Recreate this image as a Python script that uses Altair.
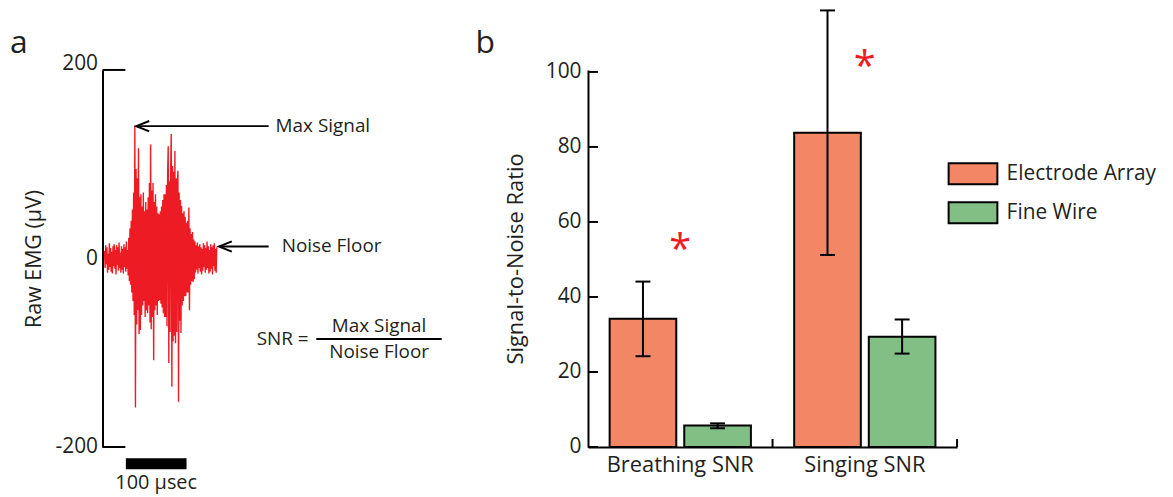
import altair as alt
import pandas as pd

FONT = "Open Sans"
TXT = "#231F20"
RED = "#ED1C24"

# ---------------- Panel a: raw EMG trace (µV), one sample per µs ----------------
emg_uv = [
    8, -10, 14, -6, 12, -15, 5, -12, 16, -9,
    11, -14, 7, -16, 13, -8, 15, -11, 9, -17,
    14, -7, 12, -13, 17, -10, 6, -15, 13, -12,
    10, -16, 15, -9, 12, -14, 18, -11, 9, -18,
    22, -24, 32, -28, 40, -36, 52, -45, 70, -60,
    141, -158, 95, -70, 85, -55, 117, -80, 65, -76,
    68, -60, 55, -50, 70, -45, 50, -62, 60, -55,
    52, -58, 65, -50, 80, -68, 121, -75, 72, -62,
    80, -108, 60, -55, 68, -50, 55, -60, 48, -45,
    47, -44, 50, -48, 55, -52, 62, -58, 68, -62,
    68, -62, 78, -72, 90, 119, -111, 82, -78, 95,
    132, -136, 98, -88, 92, -82, 114, -90, 85, -78,
    80, 93, -152, 70, -66, 62, -79, 56, -50, 48,
    -45, 50, -40, 44, -40, 38, -36, 40, -36, 54,
    -55, 32, -28, 26, -24, 28, -25, 20, -22, 18,
    -15, 14, -12, 17, -16, 13, -10, 15, -14, 12,
    -17, 10, -13, 16, -9, 14, -15, 11, -12, 18,
    -10, 13, -16, 9, -14, 15, -11, 12, -17, 14, -8, 16, -13, 10, -15, 12,
]
emg_step_us = 1.0
emg_axis_values = [-200, 0, 200]
emg_edge_ticks = [-200, 200]
max_signal_uv = 140.4
noise_floor_uv = 12.7
scalebar_len_us = 100

# ---------------- Panel b: SNR bars ----------------
groups = ["Breathing SNR", "Singing SNR"]
series = ["Electrode Array", "Fine Wire"]
electrode_mean = [34.2, 83.8]
electrode_lo = [24.2, 51.2]
electrode_hi = [44.1, 116.4]
wire_mean = [5.7, 29.4]
wire_lo = [5.0, 24.9]
wire_hi = [6.3, 34.0]
star_level = [54.6, 103.4]
snr_ticks = [0, 20, 40, 60, 80, 100]
colors = ["#F28665", "#82BF85"]

# ---------------- layout constants ----------------
A_W, A_H = 347, 379
B_W, B_H = 371, 379
A_XDOM = [-3.28, 565.6]
A_YDOM = [-200, 200]
B_YDOM = [0, 100.53]

# ---------------- Panel a ----------------
XA = alt.Scale(domain=A_XDOM, nice=False, zero=False)
YA = alt.Scale(domain=A_YDOM, nice=False, zero=False)

sig = pd.DataFrame({"t": [i * emg_step_us for i in range(len(emg_uv))], "v": emg_uv})

line = alt.Chart(sig).mark_line(color=RED, strokeWidth=1.4).encode(
    x=alt.X("t:Q", scale=XA, axis=None),
    y=alt.Y("v:Q", scale=YA, axis=alt.Axis(
        title="Raw EMG (µV)", values=emg_axis_values, ticks=False, tickSize=0,
        labelExpr="datum.value < 0 ? '-' + abs(datum.value) : '' + datum.value",
        labelBaseline={"condition": {"test": "datum.value == 200", "value": "alphabetic"}, "value": "middle"},
        labelPadding=5, labelFontSize=21, labelColor=TXT, labelFont=FONT,
        domainColor="black", domainWidth=2, grid=False,
        titleFontSize=21.5, titleFontWeight="normal", titleColor=TXT, titleFont=FONT,
        titlePadding=10)),
)

edge = pd.DataFrame({"v": emg_edge_ticks, "t": [A_XDOM[0]] * 2, "t2": [34.4] * 2})
edge_ticks = alt.Chart(edge).mark_rule(color="black", strokeWidth=2).encode(
    x=alt.X("t:Q", scale=XA), x2="t2", y=alt.Y("v:Q", scale=YA))

bar_df = pd.DataFrame({"t": [35.2], "t2": [35.2 + scalebar_len_us], "v": [-212.0], "v2": [-223.7]})
scalebar = alt.Chart(bar_df).mark_rect(color="black").encode(
    x=alt.X("t:Q", scale=XA), x2="t2", y=alt.Y("v:Q", scale=YA), y2="v2")

arrows = pd.DataFrame({"t": [57.4, 191.8], "t2": [270.5, 270.5], "v": [max_signal_uv, noise_floor_uv]})
arrow_lines = alt.Chart(arrows).mark_rule(color="black", strokeWidth=2).encode(
    x=alt.X("t:Q", scale=XA), x2="t2", y=alt.Y("v:Q", scale=YA))
heads = pd.DataFrame({"t": [63.1, 199.2], "v": [max_signal_uv, noise_floor_uv]})
arrow_heads = alt.Chart(heads).mark_point(
    shape="M1,-0.8L-1,0L1,0.8", filled=False, color="black", strokeWidth=2, size=169, opacity=1
).encode(x=alt.X("t:Q", scale=XA), y=alt.Y("v:Q", scale=YA))

frac = pd.DataFrame({"t": [349.0], "t2": [555.7], "v": [-85.5]})
frac_line = alt.Chart(frac).mark_rule(color="black", strokeWidth=2).encode(
    x=alt.X("t:Q", scale=XA), x2="t2", y=alt.Y("v:Q", scale=YA))

tl = pd.DataFrame({"label": ["Max Signal", "Noise Floor", "SNR ="],
                   "t": [282.0, 292.0, 250.8], "v": [max_signal_uv, noise_floor_uv, -85.5]})
text_left = alt.Chart(tl).mark_text(align="left", baseline="middle", fontSize=19, font=FONT, color=TXT).encode(
    x=alt.X("t:Q", scale=XA), y=alt.Y("v:Q", scale=YA), text="label:N")
tc = pd.DataFrame({"label": ["Max Signal", "Noise Floor"], "t": [452.5, 452.5], "v": [-71.8, -98.9]})
text_center = alt.Chart(tc).mark_text(align="center", baseline="middle", fontSize=19, font=FONT, color=TXT).encode(
    x=alt.X("t:Q", scale=XA), y=alt.Y("v:Q", scale=YA), text="label:N")
tu = pd.DataFrame({"label": ["100 µsec"], "t": [35.2 + scalebar_len_us / 2], "v": [-244.5]})
text_unit = alt.Chart(tu).mark_text(align="center", baseline="alphabetic", fontSize=20, font=FONT, color=TXT).encode(
    x=alt.X("t:Q", scale=XA), y=alt.Y("v:Q", scale=YA), text="label:N")

letter_a = alt.Chart(pd.DataFrame({"k": [0]})).mark_text(
    align="left", baseline="alphabetic", fontSize=32, font=FONT, color=TXT
).encode(x=alt.value(-93), y=alt.value(-17), text=alt.value("a"))

panel_a = alt.layer(line, edge_ticks, scalebar, arrow_lines, arrow_heads, frac_line,
                    text_left, text_center, text_unit, letter_a).properties(width=A_W, height=A_H)

# ---------------- Panel b ----------------
rows = []
for i, g in enumerate(groups):
    rows.append({"group": g, "series": series[0], "mean": electrode_mean[i], "lo": electrode_lo[i], "hi": electrode_hi[i]})
    rows.append({"group": g, "series": series[1], "mean": wire_mean[i], "lo": wire_lo[i], "hi": wire_hi[i]})
bdf = pd.DataFrame(rows)

XB = alt.Scale(domain=groups, paddingInner=0, paddingOuter=0)
XO = alt.Scale(domain=series, paddingInner=0.1067, paddingOuter=0.29)
YB = alt.Scale(domain=B_YDOM, nice=False, zero=True)

xb = alt.X("group:N", scale=XB, sort=groups, axis=alt.Axis(
    title=None, labelAngle=0, ticks=False, tickSize=0, labelPadding=8, labelFontSize=22,
    labelColor=TXT, labelFont=FONT, domainColor="black", domainWidth=2, grid=False))
xo = alt.XOffset("series:N", scale=XO, sort=series)

bars = alt.Chart(bdf).mark_bar(stroke="black", strokeWidth=2, opacity=1).encode(
    x=xb, xOffset=xo,
    y=alt.Y("mean:Q", scale=YB, axis=alt.Axis(
        title="Signal-to-Noise Ratio", values=snr_ticks, format="d", ticks=False, tickSize=0,
        labelPadding=7, labelFontSize=21, labelColor=TXT, labelFont=FONT,
        domainColor="black", domainWidth=2, grid=False,
        titleFontSize=22, titleFontWeight="normal", titleColor=TXT, titleFont=FONT, titlePadding=18)),
    color=alt.Color("series:N", scale=alt.Scale(domain=series, range=colors), legend=alt.Legend(
        title=None, orient="none", legendX=374.5, legendY=91.8,
        symbolType="M-2.2,-0.95L2.2,-0.95L2.2,0.95L-2.2,0.95Z", symbolSize=496,
        symbolStrokeColor="black", symbolStrokeWidth=2, symbolOpacity=1,
        labelFontSize=21, labelFont=FONT, labelColor=TXT, labelOffset=21.3, labelLimit=300,
        rowPadding=8.2, padding=0)),
)

err = alt.Chart(bdf).mark_rule(color="black", strokeWidth=2).encode(
    x=alt.X("group:N", scale=XB, sort=groups), xOffset=xo,
    y=alt.Y("lo:Q", scale=YB), y2="hi")
cap_lo = alt.Chart(bdf).mark_tick(color="black", thickness=2, size=15, orient="horizontal", opacity=1).encode(
    x=alt.X("group:N", scale=XB, sort=groups), xOffset=xo, y=alt.Y("lo:Q", scale=YB))
cap_hi = alt.Chart(bdf).mark_tick(color="black", thickness=2, size=15, orient="horizontal", opacity=1).encode(
    x=alt.X("group:N", scale=XB, sort=groups), xOffset=xo, y=alt.Y("hi:Q", scale=YB))

sdf = pd.DataFrame({"group": groups, "star": star_level})
stars = alt.Chart(sdf).mark_text(text="*", color=RED, fontSize=40, font=FONT, baseline="middle", dy=9).encode(
    x=alt.X("group:N", scale=XB, sort=groups), y=alt.Y("star:Q", scale=YB))

gdf = pd.DataFrame({"group": groups})
xticks = alt.Chart(gdf).mark_rule(color="black", strokeWidth=2).encode(
    x=alt.X("group:N", scale=XB, sort=groups, bandPosition=1),
    y=alt.value(B_H - 8), y2=alt.value(B_H))

tdf = pd.DataFrame({"tick": snr_ticks})
yticks = alt.Chart(tdf).mark_rule(color="black", strokeWidth=2).encode(
    y=alt.Y("tick:Q", scale=YB), x=alt.value(0), x2=alt.value(10))

letter_b = alt.Chart(pd.DataFrame({"k": [0]})).mark_text(
    align="left", baseline="alphabetic", fontSize=32, font=FONT, color=TXT
).encode(x=alt.value(-113), y=alt.value(-17), text=alt.value("b"))

panel_b = alt.layer(bars, err, cap_lo, cap_hi, stars, xticks, yticks, letter_b).properties(width=B_W, height=B_H)

chart = alt.hconcat(panel_a, panel_b, spacing=141, bounds="flush").resolve_legend(
    color="independent"
).properties(
    padding={"left": 2, "top": 0, "right": 8, "bottom": 2}
).configure(font=FONT).configure_view(stroke="transparent", strokeWidth=0)

chart.save("out.html", embed_options={"renderer": "svg", "actions": False})
